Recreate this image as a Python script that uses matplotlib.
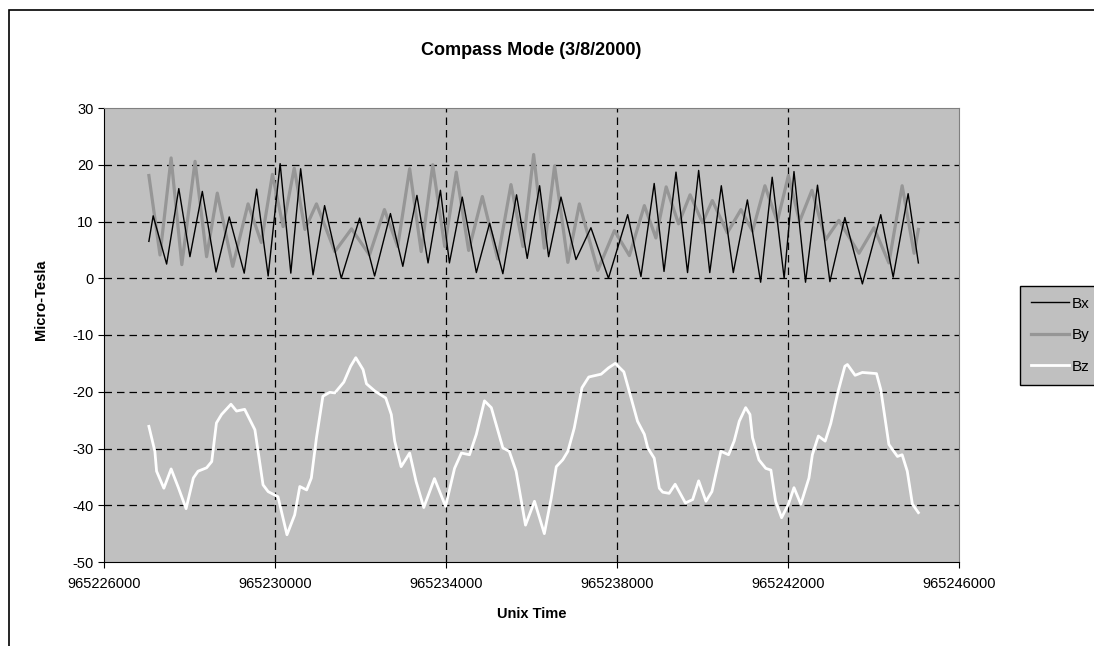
import numpy as np
import matplotlib
matplotlib.use('Agg')
import matplotlib.pyplot as plt
from matplotlib.patches import Rectangle

plt.rcParams['font.family'] = ['Liberation Sans', 'DejaVu Sans']
plt.rcParams['axes.unicode_minus'] = False

#Bx readings (unix time, micro-tesla)
bx_time = [965227050, 965227150, 965227465, 965227750, 965228010, 965228300, 965228620, 965228930,
           965229280, 965229570, 965229840, 965230120, 965230370, 965230600, 965230890, 965231160,
           965231550, 965231980, 965232330, 965232700, 965232990, 965233320, 965233580, 965233870,
           965234080, 965234380, 965234710, 965235020, 965235330, 965235650, 965235900, 965236190,
           965236400, 965236690, 965237040, 965237390, 965237800, 965238250, 965238560, 965238870,
           965239100, 965239380, 965239650, 965239910, 965240170, 965240440, 965240720, 965241050,
           965241360, 965241630, 965241910, 965242140, 965242410, 965242690, 965242980, 965243330,
           965243740, 965244170, 965244460, 965244810, 965245050]
bx_val = [6.5, 11.0, 2.5, 15.8, 3.8, 15.3, 1.1, 10.8,
          0.9, 15.7, 0.4, 20.2, 0.9, 19.3, 0.6, 12.8,
          0.0, 10.6, 0.4, 11.4, 2.1, 14.6, 2.7, 15.5,
          2.7, 14.3, 1.0, 9.7, 0.8, 14.7, 3.5, 16.3,
          3.8, 14.3, 3.3, 8.9, 0.0, 11.2, 0.3, 16.7,
          1.2, 18.7, 1.0, 19.0, 1.0, 16.3, 1.0, 13.8,
          -0.7, 17.8, 0.0, 18.8, -0.7, 16.4, -0.6, 10.7,
          -1.0, 11.2, 0.2, 14.9, 2.7]

#By readings
by_time = [965227050, 965227310, 965227570, 965227820, 965228130, 965228400, 965228650, 965229010,
           965229370, 965229680, 965229940, 965230190, 965230450, 965230700, 965230970, 965231400,
           965231790, 965232210, 965232560, 965232870, 965233150, 965233420, 965233690, 965233970,
           965234240, 965234530, 965234850, 965235210, 965235520, 965235800, 965236050, 965236300,
           965236540, 965236850, 965237120, 965237550, 965237940, 965238290, 965238640, 965238910,
           965239150, 965239440, 965239710, 965240000, 965240230, 965240580, 965240900, 965241170,
           965241460, 965241750, 965242010, 965242270, 965242560, 965242880, 965243190, 965243660,
           965244010, 965244360, 965244670, 965244950, 965245050]
by_val = [18.1, 4.1, 21.2, 2.4, 20.6, 3.8, 15.0, 2.1,
          13.1, 6.3, 18.3, 9.1, 19.4, 8.6, 13.1, 4.7,
          8.7, 4.1, 12.1, 5.6, 19.3, 4.7, 20.0, 5.6,
          18.7, 4.9, 14.4, 3.4, 16.5, 5.6, 21.8, 5.3,
          19.8, 2.8, 13.1, 1.4, 8.4, 4.0, 12.8, 7.1,
          16.1, 9.6, 14.7, 9.8, 13.7, 8.0, 12.1, 8.3,
          16.3, 10.0, 18.1, 10.0, 15.5, 6.8, 10.2, 4.4,
          8.9, 2.7, 16.3, 4.4, 8.6]

#Bz readings
bz_time = [965227050, 965227190, 965227230, 965227400, 965227570, 965227740, 965227920, 965228090,
           965228200, 965228400, 965228520, 965228630, 965228750, 965228970, 965229100, 965229290,
           965229530, 965229720, 965229840, 965230070, 965230170, 965230280, 965230460, 965230580,
           965230740, 965230850, 965230970, 965231120, 965231280, 965231400, 965231610, 965231770,
           965231890, 965232060, 965232140, 965232340, 965232590, 965232720, 965232800, 965232950,
           965233150, 965233300, 965233480, 965233730, 965233990, 965234200, 965234360, 965234550,
           965234710, 965234900, 965235060, 965235330, 965235480, 965235640, 965235860, 965236070,
           965236300, 965236460, 965236580, 965236730, 965236850, 965237000, 965237180, 965237340,
           965237630, 965237800, 965237960, 965238160, 965238330, 965238480, 965238640, 965238720,
           965238870, 965238990, 965239070, 965239220, 965239360, 965239600, 965239770, 965239910,
           965240080, 965240220, 965240430, 965240610, 965240740, 965240860, 965241010, 965241110,
           965241170, 965241320, 965241480, 965241600, 965241710, 965241850, 965242010, 965242140,
           965242300, 965242490, 965242570, 965242710, 965242870, 965243000, 965243170, 965243330,
           965243390, 965243570, 965243740, 965244070, 965244170, 965244360, 965244560, 965244670,
           965244790, 965244910, 965245050]
bz_val = [-26.1, -30.5, -34.0, -37.0, -33.6, -36.9, -40.6, -35.2,
          -34.0, -33.4, -32.3, -25.5, -24.0, -22.2, -23.4, -23.1,
          -26.7, -36.4, -37.6, -38.5, -41.7, -45.2, -41.7, -36.7,
          -37.3, -35.2, -28.1, -20.8, -20.1, -20.2, -18.3, -15.5,
          -14.0, -16.1, -18.6, -19.9, -21.1, -24.0, -28.7, -33.2,
          -30.8, -35.8, -40.4, -35.3, -40.2, -33.5, -30.8, -31.1,
          -27.5, -21.6, -22.8, -29.9, -30.5, -34.0, -43.5, -39.3,
          -45.0, -38.8, -33.2, -32.0, -30.5, -26.4, -19.3, -17.4,
          -16.9, -15.8, -15.0, -16.5, -21.1, -25.2, -27.5, -29.9,
          -31.7, -37.0, -37.7, -37.9, -36.3, -39.6, -39.0, -35.7,
          -39.3, -37.6, -30.5, -31.1, -28.7, -25.2, -22.8, -24.0,
          -28.1, -32.0, -33.5, -33.8, -39.3, -42.2, -39.8, -36.9,
          -39.8, -35.2, -31.1, -27.8, -28.7, -25.6, -20.0, -15.5,
          -15.2, -17.1, -16.6, -16.8, -19.6, -29.3, -31.4, -31.1,
          -34.0, -39.8, -41.3]

x_ticks = [965226000, 965230000, 965234000, 965238000, 965242000, 965246000]
y_ticks = [-50, -40, -30, -20, -10, 0, 10, 20, 30]

fig = plt.figure(figsize=(10.94, 6.46), dpi=100)
fig.patch.set_facecolor('white')

#outer chart frame (runs off the right and bottom edges)
fig.patches.append(Rectangle((9/1094, -0.2), 1.2, 1 - 10/646 + 0.2, transform=fig.transFigure,
                             fill=False, edgecolor='black', linewidth=1.2))

ax = fig.add_axes([104/1094, 1 - 562/646, 855/1094, 454/646])
ax.set_facecolor('#C0C0C0')

ax.plot(bx_time, bx_val, color='black', linewidth=1.0, label='Bx', zorder=4,
        solid_joinstyle='round')
ax.plot(by_time, by_val, color='#969696', linewidth=2.3, label='By', zorder=3,
        solid_joinstyle='round')
ax.plot(bz_time, bz_val, color='white', linewidth=2.0, label='Bz', zorder=3,
        solid_joinstyle='round')

ax.set_xlim(965226000, 965246000)
ax.set_ylim(-50, 30)
ax.set_xticks(x_ticks)
ax.set_yticks(y_ticks)
ax.set_xticklabels([str(t) for t in x_ticks])
ax.tick_params(labelsize=10.5, length=4, direction='out', color='black')
ax.tick_params(axis='x', pad=7)

#dashed grid, not on the plot edges
for t in x_ticks[1:-1]:
    ax.axvline(t, color='black', linewidth=0.9, linestyle=(0, (6, 4)), zorder=2)
for v in y_ticks[1:-1]:
    ax.axhline(v, color='black', linewidth=0.9, linestyle=(0, (6, 4)), zorder=2)

ax.spines['top'].set_color('#808080')
ax.spines['right'].set_color('#808080')
ax.spines['left'].set_color('black')
ax.spines['bottom'].set_color('black')

ax.set_title('Compass Mode (3/8/2000)', fontsize=13, fontweight='bold', pad=38)
ax.set_xlabel('Unix Time', fontsize=10.5, fontweight='bold')
ax.set_ylabel('Micro-Tesla', fontsize=10.5, fontweight='bold')
ax.xaxis.set_label_coords(0.5, -(607 - 562) / 454)
ax.yaxis.set_label_coords((48 - 104) / 855, (562 - 300) / 454)

leg = fig.legend(loc='upper left', bbox_to_anchor=(1020/1094, 1 - 286/646), fontsize=11,
                 facecolor='#C0C0C0', edgecolor='black', framealpha=1, fancybox=False,
                 handlelength=2.5, labelspacing=1.15, borderpad=0.7, handletextpad=0.2,
                 borderaxespad=0)
leg.get_frame().set_linewidth(1.0)

fig.savefig('out.png', dpi=100)
